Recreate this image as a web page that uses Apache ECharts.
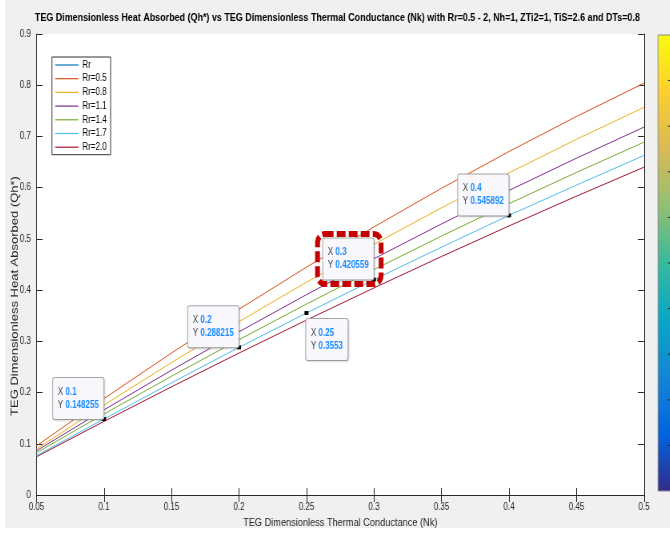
<!DOCTYPE html>
<html><head><meta charset="utf-8">
<script src="https://cdn.jsdelivr.net/npm/echarts/dist/echarts.min.js"></script>
<style>
html,body{margin:0;padding:0;background:#fff;width:670px;height:534px;overflow:hidden;}
#wrap{position:absolute;left:5px;top:0;width:665px;height:528px;background:#f0f0f0;overflow:hidden;}
#chart{position:absolute;left:0;top:0;width:831px;height:528px;transform:scaleX(0.8);transform-origin:0 0;}
</style></head><body>
<div id="wrap"><div id="chart"></div></div>
<script>
// ---- data ----
const nk = [0.05, 0.1, 0.15, 0.2, 0.25, 0.3, 0.35, 0.4, 0.45, 0.5];
const seriesNames = ['Rr', 'Rr=0.5', 'Rr=0.8', 'Rr=1.1', 'Rr=1.4', 'Rr=1.7', 'Rr=2.0'];
const rrBase = [];
const rr05 = [0.096, 0.1883, 0.2772, 0.3627, 0.4448, 0.5235, 0.5988, 0.6706, 0.7390, 0.8040];
const rr08 = [0.090, 0.1757, 0.2585, 0.3384, 0.4154, 0.4895, 0.5607, 0.6290, 0.6944, 0.7569];
const rr11 = [0.0864, 0.1662, 0.2436, 0.3186, 0.3912, 0.4614, 0.5292, 0.5946, 0.6576, 0.7182];
const rr14 = [0.0825, 0.1582, 0.2318, 0.3033, 0.3728, 0.4402, 0.5055, 0.5687, 0.6298, 0.6889];
const rr17 = [0.077, 0.148255, 0.219, 0.288215, 0.3553, 0.420559, 0.4838, 0.545892, 0.605, 0.663];
const rr20 = [0.0747, 0.1437, 0.2112, 0.2771, 0.3415, 0.4043, 0.4656, 0.5253, 0.5834, 0.6400];
const tipX = [0.1, 0.2, 0.25, 0.3, 0.4];
const tipY = [0.148255, 0.288215, 0.3553, 0.420559, 0.545892];
const tipXText = ['0.1', '0.2', '0.25', '0.3', '0.4'];
const tipYText = ['0.148255', '0.288215', '0.3553', '0.420559', '0.545892'];
const xTickLabels = ['0.05', '0.1', '0.15', '0.2', '0.25', '0.3', '0.35', '0.4', '0.45', '0.5'];
const yTickLabels = ['0', '0.1', '0.2', '0.3', '0.4', '0.5', '0.6', '0.7', '0.8', '0.9'];
const titleText = 'TEG Dimensionless Heat Absorbed (Qh*) vs TEG Dimensionless Thermal Conductance (Nk) with Rr=0.5 - 2, Nh=1, ZTi2=1, TiS=2.6 and DTs=0.8';
const xName = 'TEG Dimensionless Thermal Conductance (Nk)';
const yName = 'TEG Dimensionless Heat Absorbed (Qh*)';

// ---- style ----
const SX = 0.8;                       // horizontal squeeze applied by CSS
const cx = (imgX) => (imgX - 5) / SX; // image x -> chart x
const FONT = "'Liberation Sans', Arial, sans-serif";
const colors = ['#0072BD', '#D95319', '#EDB120', '#7E2F8E', '#77AC30', '#4DBEEE', '#A2142F'];
const axisColor = '#262626';
const allData = [rrBase, rr05, rr08, rr11, rr14, rr17, rr20];

const chart = echarts.init(document.getElementById('chart'), null, {renderer: 'canvas', width: 831, height: 528});

const richTip = (c1, c2) => ({
  k: {color: c1, fontSize: 10, fontFamily: FONT, lineHeight: 13, align: 'left'},
  v: {color: c2, fontSize: 10, fontFamily: FONT, fontWeight: 'bold', lineHeight: 13, align: 'left'}
});
const tipText = (i) => '{k|X }{v|' + tipXText[i] + '}\n{k|Y }{v|' + tipYText[i] + '}';

function tipLabel(i, opts) {
  return Object.assign({
    show: true,
    formatter: tipText(i),
    backgroundColor: '#f8f8fc',
    borderColor: '#a8a8a8',
    borderWidth: 1,
    borderRadius: 2,
    padding: [7.5, 6, 7.5, 6],
    lineHeight: 13,
    position: [2, 2],
    align: 'right',
    verticalAlign: 'bottom',
    shadowColor: 'rgba(0,0,0,0.12)',
    shadowBlur: 2,
    shadowOffsetX: 1,
    shadowOffsetY: 1,
    rich: richTip('#404040', '#1a8cff')
  }, opts || {});
}

const markData = [];
// red dashed highlight around the X=0.3 tip
markData.push({
  coord: [tipX[3], tipY[3]],
  symbolSize: 0,
  label: {
    show: true,
    formatter: tipText(3),
    backgroundColor: 'transparent',
    borderColor: '#c40000',
    borderWidth: 3,
    borderType: [11, 4],
    borderRadius: 9,
    padding: [12, 15.4, 12, 12.9],
    lineHeight: 13,
    position: [8.9, 4.5],
    align: 'right',
    verticalAlign: 'bottom',
    rich: richTip('transparent', 'transparent')
  }
});
for (let i = 0; i < tipX.length; i++) {
  const opt = (i === 2) ? {position: [2, 8], align: 'left', verticalAlign: 'top'} : {};
  markData.push({coord: [tipX[i], tipY[i]], label: tipLabel(i, opt)});
}

const series = seriesNames.map((name, idx) => {
  const s = {
    name: name,
    type: 'line',
    data: allData[idx].map((v, j) => [nk[j], v]),
    showSymbol: false,
    symbol: 'none',
    lineStyle: {width: 1, color: colors[idx]},
    itemStyle: {color: colors[idx]},
    silent: true,
    animation: false,
    z: 2
  };
  if (name === 'Rr=1.7') {
    s.markPoint = {
      symbol: 'rect',
      symbolSize: [5, 4],
      itemStyle: {color: '#000'},
      silent: true,
      animation: false,
      data: markData
    };
  }
  return s;
});

const H0 = 35, CBH = 456;
const cbTicks = [];
for (let k = 1; k < 10; k++) {
  cbTicks.push({
    type: 'line',
    shape: {x1: cx(668), y1: H0 + CBH * k / 10, x2: cx(672), y2: H0 + CBH * k / 10},
    style: {stroke: '#222', lineWidth: 1},
    z: 10
  });
}

chart.setOption({
  backgroundColor: '#f0f0f0',
  animation: false,
  textStyle: {fontFamily: FONT},
  title: {
    text: titleText,
    left: 'center',
    top: 7,
    textStyle: {fontSize: 11.2, fontWeight: 'bold', color: '#000', fontFamily: FONT}
  },
  legend: {
    orient: 'vertical',
    left: cx(52),
    top: 57,
    icon: 'rect',
    itemWidth: 29,
    itemHeight: 1.2,
    itemGap: 2.7,
    data: seriesNames,
    backgroundColor: '#fff',
    borderColor: '#333',
    borderWidth: 1,
    borderRadius: 0,
    padding: [2.5, 5, 2, 4],
    selectedMode: false,
    textStyle: {fontSize: 10, color: '#000', fontFamily: FONT, lineHeight: 11}
  },
  grid: {left: cx(36.5), right: 831 - cx(644), top: 34, bottom: 33, show: true, backgroundColor: '#fff', borderWidth: 0, outerBoundsMode: 'none', containLabel: false},
  xAxis: [{
    type: 'value', min: 0.05, max: 0.5, interval: 0.05,
    name: xName, nameLocation: 'middle', nameGap: 19,
    nameTextStyle: {fontSize: 11.5, color: axisColor, fontFamily: FONT},
    axisLine: {show: true, lineStyle: {color: axisColor, width: 1}},
    axisTick: {show: true, inside: true, length: 7, lineStyle: {color: axisColor}},
    axisLabel: {fontSize: 10, color: axisColor, margin: 7, fontFamily: FONT,
      formatter: v => xTickLabels[Math.round((v - 0.05) / 0.05)]},
    splitLine: {show: false}
  }, {
    type: 'value', min: 0.05, max: 0.5, interval: 0.05, position: 'top',
    axisLine: {show: true, lineStyle: {color: axisColor, width: 1}},
    axisTick: {show: true, inside: true, length: 7, lineStyle: {color: axisColor}},
    axisLabel: {show: false}, splitLine: {show: false}
  }],
  yAxis: [{
    type: 'value', min: 0, max: 0.9, interval: 0.1,
    axisLine: {show: true, lineStyle: {color: axisColor, width: 1}},
    axisTick: {show: true, inside: true, length: 7.5, lineStyle: {color: axisColor}},
    axisLabel: {fontSize: 10, color: axisColor, margin: 7, fontFamily: FONT,
      formatter: v => yTickLabels[Math.round(v / 0.1)]},
    splitLine: {show: false}
  }, {
    type: 'value', min: 0, max: 0.9, interval: 0.1, position: 'right',
    axisLine: {show: true, lineStyle: {color: axisColor, width: 1}},
    axisTick: {show: true, inside: true, length: 7.5, lineStyle: {color: axisColor}},
    axisLabel: {show: false}, splitLine: {show: false}
  }],
  graphic: [{
    type: 'text',
    x: cx(15),
    y: 296,
    rotation: Math.PI / 2,
    style: {text: yName, fontSize: 13, fontFamily: FONT, fill: axisColor, align: 'center', verticalAlign: 'middle'},
    z: 10
  }, {
    type: 'rect',
    shape: {x: cx(658), y: H0, width: 40, height: CBH},
    style: {
      fill: new echarts.graphic.LinearGradient(0, 0, 0, 1, [
        {offset: 0.0, color: '#f9fb0e'},
        {offset: 0.125, color: '#fcce2e'},
        {offset: 0.25, color: '#d9ba56'},
        {offset: 0.375, color: '#92bf73'},
        {offset: 0.5, color: '#38b99e'},
        {offset: 0.625, color: '#06a7c6'},
        {offset: 0.75, color: '#1485d4'},
        {offset: 0.875, color: '#0363e1'},
        {offset: 1.0, color: '#352a87'}
      ]),
      stroke: '#8a8a8a', lineWidth: 1
    },
    z: 9
  }].concat(cbTicks),
  series: series
});
</script>
</body></html>
